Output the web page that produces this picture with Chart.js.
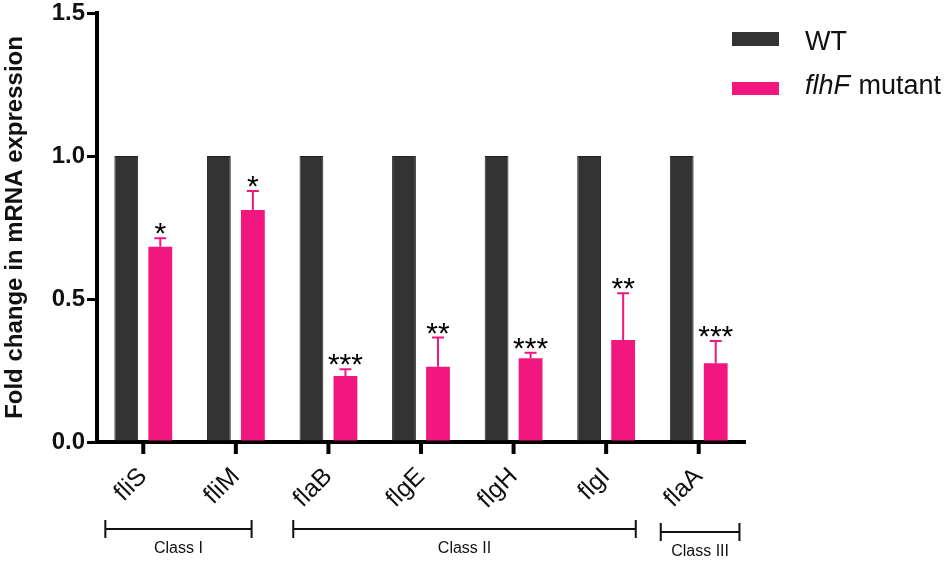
<!DOCTYPE html>
<html>
<head>
<meta charset="utf-8">
<script src="https://cdn.jsdelivr.net/npm/chart.js@4"></script>
<style>
  html, body { margin: 0; padding: 0; background: #fff; }
  #wrap { width: 950px; height: 561px; }
</style>
</head>
<body>
<div id="wrap"><canvas id="chart"></canvas></div>
<script>
"use strict";

// ── Data ──
const genes      = ["fliS", "fliM", "flaB", "flgE", "flgH", "flgI", "flaA"];
const wtValues   = [1, 1, 1, 1, 1, 1, 1];
const mutValues  = [0.683, 0.811, 0.231, 0.263, 0.293, 0.357, 0.275];
const mutErrors  = [0.029, 0.067, 0.023, 0.102, 0.019, 0.163, 0.078];
const stars      = ["*", "*", "***", "**", "***", "**", "***"];
const yTicks     = [0, 0.5, 1.0, 1.5];

// class groups: first / last category (fractional edges)
const classNames = ["Class I", "Class II", "Class III"];
const classFrom  = [-0.41, 1.62, 5.59];
const classTo    = [1.17, 5.32, 6.44];

const DARK = "#333333";
const PINK = "#f2167f";
const FONT = "Arial, 'Liberation Sans', sans-serif";

// ── Extras: x tick marks, error bars, stars, class brackets, legend ──
const extras = {
  id: "extras",
  afterDraw(chart) {
    const { ctx, chartArea, scales: { x, y } } = chart;
    const meta = chart.getDatasetMeta(1);
    ctx.save();

    // x tick marks under the axis
    ctx.fillStyle = "#000";
    meta.data.forEach((bar, i) => {
      const px = x.getPixelForValue(i);
      ctx.fillRect(px - 2, chartArea.bottom, 4, 12);
    });

    // error bars (upper only) + significance stars
    meta.data.forEach((bar, i) => {
      const top  = y.getPixelForValue(mutValues[i]);
      const errY = y.getPixelForValue(mutValues[i] + mutErrors[i]);
      ctx.strokeStyle = PINK;
      ctx.lineWidth = 2;
      ctx.beginPath();
      ctx.moveTo(bar.x, top);
      ctx.lineTo(bar.x, errY);
      ctx.moveTo(bar.x - 6, errY);
      ctx.lineTo(bar.x + 6, errY);
      ctx.stroke();

      ctx.fillStyle = "#000";
      ctx.font = `30px ${FONT}`;
      ctx.textAlign = "center";
      ctx.textBaseline = "alphabetic";
      ctx.fillText(stars[i], bar.x, errY + 5);
    });

    // class brackets
    ctx.strokeStyle = "#111";
    ctx.lineWidth = 2;
    classNames.forEach((name, i) => {
      const x0 = x.getPixelForValue(classFrom[i]);
      const x1 = x.getPixelForValue(classTo[i]);
      const yy = i === 2 ? 532 : 529;
      ctx.beginPath();
      ctx.moveTo(x0, yy); ctx.lineTo(x1, yy);
      ctx.moveTo(x0, yy - 9); ctx.lineTo(x0, yy + 9);
      ctx.moveTo(x1, yy - 9); ctx.lineTo(x1, yy + 9);
      ctx.stroke();
      ctx.fillStyle = "#111";
      ctx.font = `16px ${FONT}`;
      ctx.textAlign = "center";
      ctx.textBaseline = "alphabetic";
      ctx.fillText(name, (x0 + x1) / 2, yy + 24);
    });

    // legend
    ctx.fillStyle = DARK;
    ctx.fillRect(732, 32, 47, 14);
    ctx.fillStyle = PINK;
    ctx.fillRect(732, 82, 47, 13);
    ctx.fillStyle = "#111";
    ctx.textAlign = "left";
    ctx.textBaseline = "alphabetic";
    ctx.font = `27px ${FONT}`;
    ctx.fillText("WT", 805, 50);
    ctx.font = `italic 27px ${FONT}`;
    ctx.fillText("flhF", 805, 94);
    const w = ctx.measureText("flhF").width;
    ctx.font = `27px ${FONT}`;
    ctx.fillText(" mutant", 805 + w + 1, 94);

    ctx.restore();
  },
};

// ── Chart ──
new Chart(document.getElementById("chart"), {
  type: "bar",
  data: {
    labels: genes,
    datasets: [
      { label: "WT", data: wtValues, backgroundColor: DARK, borderColor: "#222", borderWidth: 1 },
      { label: "flhF mutant", data: mutValues, backgroundColor: PINK, borderWidth: 0 },
    ],
  },
  options: {
    responsive: true,
    maintainAspectRatio: false,
    animation: false,
    categoryPercentage: 0.735,
    barPercentage: 0.7,
    layout: { padding: { left: 0, right: 205, top: 13, bottom: 0 } },
    plugins: { legend: { display: false }, tooltip: { enabled: false } },
    scales: {
      x: {
        offset: true,
        border: { width: 4, color: "#000" },
        grid: { display: false },
        ticks: {
          color: "#111",
          font: { family: FONT, size: 25 },
          minRotation: 45, maxRotation: 45,
          padding: 12,
        },
        afterFit: s => { s.height = 119; s.paddingLeft = 0; s.paddingRight = 0; },
      },
      y: {
        min: 0, max: 1.5,
        border: { width: 4, color: "#000" },
        grid: { display: true, drawOnChartArea: false, tickLength: 10, lineWidth: 3, color: "#000" },
        afterBuildTicks: s => { s.ticks = yTicks.map(v => ({ value: v })); },
        ticks: {
          color: "#111",
          font: { family: FONT, size: 24, weight: "bold" },
          padding: 2,
          callback: v => v.toFixed(1),
        },
        title: {
          display: true,
          text: "Fold change in mRNA expression",
          color: "#111",
          font: { family: FONT, size: 24, weight: "bold" },
          padding: { top: 1, bottom: 0 },
        },
        afterFit: s => { s.width = 97; s.paddingTop = 0; s.paddingBottom = 0; },
      },
    },
  },
  plugins: [extras],
});
</script>
</body>
</html>
